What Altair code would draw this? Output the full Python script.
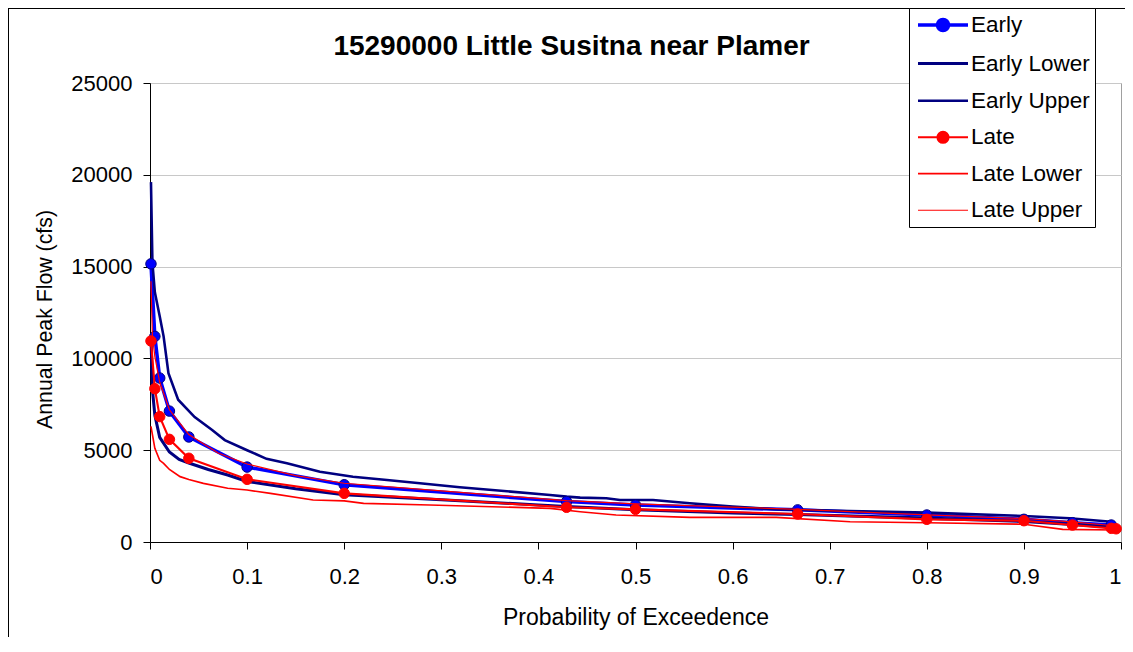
import altair as alt
import pandas as pd

FONT = "Liberation Sans"
TITLE = "15290000 Little Susitna near Plamer"
X_TITLE = "Probability of Exceedence"
Y_TITLE = "Annual Peak Flow (cfs)"

SERIES = ["Early", "Early Lower", "Early Upper", "Late", "Late Lower", "Late Upper"]
COLORS = ["#0000ff", "#000080", "#000080", "#ff0000", "#ff0000", "#ff0000"]
WIDTHS = [3.5, 1.2, 1.2, 3.5, 1.2, 1.2]

X_TICKS = [0, 0.1, 0.2, 0.3, 0.4, 0.5, 0.6, 0.7, 0.8, 0.9, 1]
Y_TICKS = [0, 5000, 10000, 15000, 20000, 25000]

# Early estimate (with markers)
P_EARLY = [0.001, 0.005, 0.01, 0.02, 0.04, 0.1, 0.2, 0.429, 0.5, 0.667, 0.8, 0.9, 0.95, 0.99]
EARLY = [15150, 11200, 8930, 7130, 5720, 4080, 3120, 2200, 2010, 1750, 1470, 1235, 1050, 925]

# Early lower bound
P_EARLY_LOWER = [0.001, 0.0025, 0.005, 0.01, 0.02, 0.03, 0.04, 0.06, 0.08, 0.1, 0.15, 0.2,
                 0.3, 0.4, 0.429, 0.5, 0.6, 0.667, 0.8, 0.9, 0.95, 0.99]
EARLY_LOWER = [11200, 8300, 6900, 5700, 4900, 4500, 4300, 3950, 3650, 3300, 2900, 2580,
               2300, 2020, 1930, 1760, 1580, 1500, 1300, 1120, 960, 820]

# Early upper bound
P_EARLY_UPPER = [0.001, 0.0025, 0.005, 0.01, 0.014, 0.019, 0.029, 0.046, 0.064, 0.077, 0.1,
                 0.12, 0.141, 0.175, 0.209, 0.244, 0.278, 0.319, 0.412, 0.429, 0.443, 0.47,
                 0.484, 0.518, 0.556, 0.6, 0.645, 0.72, 0.8, 0.9, 0.947, 0.99]
EARLY_UPPER = [19600, 15200, 13600, 12300, 11200, 9200, 7750, 6800, 6100, 5550, 5000,
               4530, 4285, 3830, 3555, 3375, 3195, 2980, 2560, 2470, 2415, 2380,
               2290, 2290, 2110, 1925, 1780, 1680, 1600, 1415, 1290, 1105]

# Late estimate (with markers)
P_LATE = [0.001, 0.005, 0.01, 0.02, 0.04, 0.1, 0.2, 0.429, 0.5, 0.667, 0.8, 0.9, 0.95, 0.99, 0.995]
LATE = [10950, 8350, 6830, 5590, 4560, 3415, 2650, 1890, 1780, 1525, 1235, 1160, 925, 745, 720]

# Late lower bound
P_LATE_LOWER = [0.001, 0.005, 0.01, 0.014, 0.02, 0.031, 0.04, 0.055, 0.08, 0.1, 0.124, 0.168,
                0.2, 0.22, 0.288, 0.412, 0.443, 0.48, 0.556, 0.645, 0.721, 0.8, 0.9, 0.94, 0.995]
LATE_LOWER = [6300, 5100, 4450, 4285, 3950, 3560, 3400, 3195, 2925, 2830, 2650, 2290,
              2240, 2100, 2015, 1835, 1650, 1470, 1345, 1345, 1105, 1050, 965, 690, 655]

# Late upper bound
P_LATE_UPPER = [0.001, 0.0025, 0.005, 0.01, 0.02, 0.04, 0.07, 0.1, 0.15, 0.2, 0.3, 0.429,
                0.5, 0.6, 0.667, 0.8, 0.9, 0.95, 0.99]
LATE_UPPER = [14200, 11200, 10100, 8700, 7200, 5850, 4850, 4250, 3620, 3200, 2780, 2250,
              2080, 1900, 1780, 1480, 1280, 1100, 900]

parts = [
    ("Early", P_EARLY, EARLY),
    ("Early Lower", P_EARLY_LOWER, EARLY_LOWER),
    ("Early Upper", P_EARLY_UPPER, EARLY_UPPER),
    ("Late", P_LATE, LATE),
    ("Late Lower", P_LATE_LOWER, LATE_LOWER),
    ("Late Upper", P_LATE_UPPER, LATE_UPPER),
]
rows = []
for name, ps, vs in parts:
    for p, v in zip(ps, vs):
        rows.append({"series": name, "p": p, "flow": v})
df = pd.DataFrame(rows)

x_enc = alt.X("p:Q", title=X_TITLE,
              scale=alt.Scale(domain=[0, 1], nice=False, zero=False),
              axis=alt.Axis(values=X_TICKS, format=".1~f", grid=False,
                            labelPadding=17, titleX=485.5, titleY=75,
                            titleBaseline="middle", titleFontSize=23))
y_enc = alt.Y("flow:Q", title=Y_TITLE,
              scale=alt.Scale(domain=[0, 25000], nice=False),
              axis=alt.Axis(values=Y_TICKS, format="d", grid=True,
                            labelPadding=11, titleX=-105, titleY=236,
                            titleBaseline="middle", titleAlign="center",
                            titleFontSize=21.3))

TEST = "(datum.value === 'Early' || datum.value === 'Late')"
LINE_PATH = "M-2.5,0H2.5"
MARK_PATH = ("M-2.5,0H2.5M-0.55,0A0.55,0.55,0,1,1,0.55,0"
             "A0.55,0.55,0,1,1,-0.55,0Z")

legend = alt.Legend(
    title=None, orient="none", legendX=759, legendY=-75, direction="vertical",
    labelFont=FONT, labelFontSize=22.5, labelColor="black", labelLimit=300,
    symbolType=alt.ExprRef(expr=f"{TEST} ? '{MARK_PATH}' : '{LINE_PATH}'"),
    symbolStrokeWidth=alt.ExprRef(expr=f"{TEST} ? 3.5 : 1.2"),
    symbolFillColor=alt.ExprRef(
        expr="datum.value === 'Early' ? '#0000ff' : (datum.value === 'Late' ? '#ff0000' : 'transparent')"),
    symbolSize=400, symbolOffset=17, labelOffset=16,
    rowPadding=13.6, padding=5,
    strokeColor="black", fillColor="white", cornerRadius=0,
)

color_enc = alt.Color("series:N", scale=alt.Scale(domain=SERIES, range=COLORS),
                      legend=legend, sort=SERIES)
width_enc = alt.StrokeWidth("series:N", scale=alt.Scale(domain=SERIES, range=WIDTHS),
                            legend=None)

base = alt.Chart(df)

early_lines = base.transform_filter(
    alt.FieldOneOfPredicate(field="series", oneOf=SERIES[:3])
).mark_line(clip=False).encode(x=x_enc, y=y_enc, color=color_enc, strokeWidth=width_enc)

early_pts = base.transform_filter(
    alt.FieldEqualPredicate(field="series", equal="Early")
).mark_circle(size=110, opacity=1, color="#0000ff", stroke="#000080",
              strokeWidth=1).encode(x="p:Q", y="flow:Q")

late_lines = base.transform_filter(
    alt.FieldOneOfPredicate(field="series", oneOf=SERIES[3:])
).mark_line(clip=False).encode(x=x_enc, y=y_enc, color=color_enc, strokeWidth=width_enc)

late_pts = base.transform_filter(
    alt.FieldEqualPredicate(field="series", equal="Late")
).mark_circle(size=110, opacity=1, color="#ff0000", stroke="#ff0000",
              strokeWidth=1).encode(x="p:Q", y="flow:Q")

frame_data = alt.Data(values=[{}])
frame_left = alt.Chart(frame_data).mark_rule(color="black", strokeWidth=1).encode(
    x=alt.value(-141.5), y=alt.value(-75), y2=alt.value(560))
frame_top = alt.Chart(frame_data).mark_rule(color="black", strokeWidth=1).encode(
    x=alt.value(-142), x2=alt.value(980), y=alt.value(-74.5))

chart = alt.layer(
    frame_left, frame_top, early_lines, early_pts, late_lines, late_pts
).resolve_scale(color="shared").properties(
    width=971, height=459,
    autosize=alt.AutoSizeParams(type="none"),
    padding={"left": 142, "top": 75, "right": 4, "bottom": 95},
    title=alt.TitleParams(TITLE, font=FONT, fontSize=28, fontWeight="bold",
                          color="black", anchor="middle", frame="group",
                          dx=-64, offset=-53),
    background="white",
).configure_view(
    stroke="#a0a0a0", strokeWidth=1
).configure_axis(
    labelFont=FONT, labelFontSize=22, labelColor="black",
    titleFont=FONT, titleColor="black", titleFontWeight="normal",
    domainColor="black", domainWidth=1, tickColor="black", tickSize=7, tickWidth=1,
    gridColor="#c8c8c8", gridWidth=1,
)

chart.save("out.html", embed_options={"renderer": "svg", "actions": False})
